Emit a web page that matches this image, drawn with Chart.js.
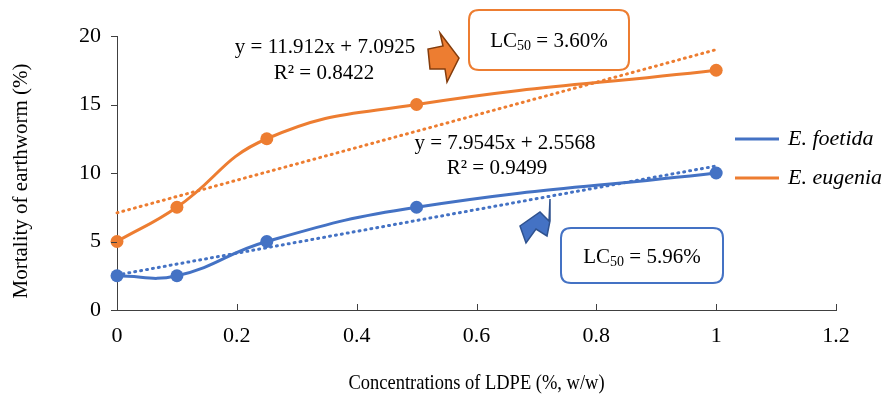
<!DOCTYPE html>
<html>
<head>
<meta charset="utf-8">
<script src="https://cdn.jsdelivr.net/npm/chart.js@4.4.0/dist/chart.umd.min.js"></script>
<style>
  html, body { margin: 0; padding: 0; background: #fff; }
  #wrap { width: 888px; height: 396px; }
</style>
</head>
<body>
<div id="wrap"><canvas id="myChart" width="888" height="396"></canvas></div>
<script>
// concentrations (% w/w) and mortality values
const concentrations = [0, 0.1, 0.25, 0.5, 1];
const foetida = [2.5, 2.5, 5, 7.5, 10];
const eugenia = [5, 7.5, 12.5, 15, 17.5];

// linear trend coefficients as printed on the chart
const foetidaTrend = [7.9545, 2.5568]; // slope, intercept
const eugeniaTrend = [11.912, 7.0925];
const trendRange = [0, 1];

const xTicks = [0, 0.2, 0.4, 0.6, 0.8, 1, 1.2];
const yTicks = [0, 5, 10, 15, 20];

const BLUE = '#4472C4';
const ORANGE = '#ED7D31';
const SERIF = "'Liberation Serif', 'Times New Roman', serif";

function toPoints(xs, ys) {
  return xs.map((x, i) => ({ x: x, y: ys[i] }));
}
function trendPoints(coef) {
  return trendRange.map(x => ({ x: x, y: coef[0] * x + coef[1] }));
}

function roundRect(ctx, x, y, w, h, r) {
  ctx.beginPath();
  ctx.moveTo(x + r, y);
  ctx.lineTo(x + w - r, y);
  ctx.quadraticCurveTo(x + w, y, x + w, y + r);
  ctx.lineTo(x + w, y + h - r);
  ctx.quadraticCurveTo(x + w, y + h, x + w - r, y + h);
  ctx.lineTo(x + r, y + h);
  ctx.quadraticCurveTo(x, y + h, x, y + h - r);
  ctx.lineTo(x, y + r);
  ctx.quadraticCurveTo(x, y, x + r, y);
  ctx.closePath();
}

function polygon(ctx, pts, fill, stroke) {
  ctx.beginPath();
  ctx.moveTo(pts[0][0], pts[0][1]);
  for (let i = 1; i < pts.length; i++) ctx.lineTo(pts[i][0], pts[i][1]);
  ctx.closePath();
  ctx.fillStyle = fill;
  ctx.fill();
  ctx.lineWidth = 1.5;
  ctx.lineJoin = 'miter';
  ctx.strokeStyle = stroke;
  ctx.stroke();
}

// LC50 box: "LC" + subscript "50" + rest
function lcBox(ctx, x, y, w, h, color, value) {
  roundRect(ctx, x, y, w, h, 10);
  ctx.fillStyle = '#fff';
  ctx.fill();
  ctx.lineWidth = 2;
  ctx.strokeStyle = color;
  ctx.stroke();

  const big = '21px ' + SERIF;
  const small = '14px ' + SERIF;
  const rest = ' = ' + value;
  ctx.font = big;
  const w1 = ctx.measureText('LC').width;
  const w3 = ctx.measureText(rest).width;
  ctx.font = small;
  const w2 = ctx.measureText('50').width;
  let cx = x + (w - (w1 + w2 + w3)) / 2;
  const base = y + h / 2 + 7;
  ctx.fillStyle = '#000';
  ctx.textAlign = 'left';
  ctx.textBaseline = 'alphabetic';
  ctx.font = big;
  ctx.fillText('LC', cx, base);
  ctx.font = small;
  ctx.fillText('50', cx + w1, base + 3);
  ctx.font = big;
  ctx.fillText(rest, cx + w1 + w2, base);
}

const decorations = {
  id: 'decorations',
  afterDraw(chart) {
    const ctx = chart.ctx;
    const xs = chart.scales.x;
    const ys = chart.scales.y;
    const area = chart.chartArea;
    ctx.save();

    // tick marks: y outward (left), x inward (up)
    ctx.strokeStyle = '#404040';
    ctx.lineWidth = 1;
    ctx.beginPath();
    yTicks.forEach(v => {
      const py = Math.round(ys.getPixelForValue(v)) + 0.5;
      ctx.moveTo(area.left - 6, py);
      ctx.lineTo(area.left, py);
    });
    xTicks.forEach(v => {
      const px = Math.round(xs.getPixelForValue(v)) + 0.5;
      ctx.moveTo(px, area.bottom);
      ctx.lineTo(px, area.bottom - 6);
    });
    ctx.stroke();

    // axis titles (x title is a slightly condensed face)
    ctx.fillStyle = '#000';
    ctx.textAlign = 'center';
    ctx.textBaseline = 'middle';
    ctx.save();
    ctx.font = '21px ' + SERIF;
    ctx.translate((area.left + area.right) / 2, 383);
    ctx.scale(0.88, 1);
    ctx.fillText('Concentrations of LDPE (%, w/w)', 0, 0);
    ctx.restore();
    ctx.save();
    ctx.font = '21px ' + SERIF;
    ctx.translate(21, 181);
    ctx.rotate(-Math.PI / 2);
    ctx.fillText('Mortality of earthworm (%)', 0, 0);
    ctx.restore();

    // trendline equations
    ctx.font = '21px ' + SERIF;
    ctx.fillText('y = 11.912x + 7.0925', 325, 47);
    ctx.fillText('R\u00B2 = 0.8422', 324, 73);
    ctx.fillText('y = 7.9545x + 2.5568', 505, 143);
    ctx.fillText('R\u00B2 = 0.9499', 497, 168);

    // legend
    ctx.lineWidth = 3;
    ctx.strokeStyle = BLUE;
    ctx.beginPath();
    ctx.moveTo(735, 139);
    ctx.lineTo(779, 139);
    ctx.stroke();
    ctx.strokeStyle = ORANGE;
    ctx.beginPath();
    ctx.moveTo(735, 178);
    ctx.lineTo(779, 178);
    ctx.stroke();
    ctx.font = 'italic 22px ' + SERIF;
    ctx.textAlign = 'left';
    ctx.fillText('E. foetida', 788, 139);
    ctx.fillText('E. eugenia', 788, 178);

    // block arrows
    polygon(ctx, [[440, 33], [459, 58], [447, 82], [445, 69], [430, 69], [428, 49], [443, 46]],
      ORANGE, '#843C0C');
    polygon(ctx, [[550, 199], [549, 221], [540, 212], [520, 226], [526, 243], [536, 229], [547, 236], [550, 221]],
      BLUE, '#2F528F');

    // LC50 boxes
    lcBox(ctx, 469, 10, 160, 60, ORANGE, '3.60%');
    lcBox(ctx, 561, 228, 162, 55, BLUE, '5.96%');

    ctx.restore();
  }
};

const ctx = document.getElementById('myChart');

new Chart(ctx, {
  type: 'line',
  data: {
    datasets: [
      {
        label: 'E. foetida trend',
        data: trendPoints(foetidaTrend),
        borderColor: BLUE,
        borderWidth: 3,
        borderDash: [1, 5],
        borderCapStyle: 'round',
        pointRadius: 0,
        tension: 0,
        clip: false,
        order: 3
      },
      {
        label: 'E. eugenia trend',
        data: trendPoints(eugeniaTrend),
        borderColor: ORANGE,
        borderWidth: 3,
        borderDash: [1, 5],
        borderCapStyle: 'round',
        pointRadius: 0,
        tension: 0,
        clip: false,
        order: 3
      },
      {
        label: 'E. foetida',
        data: toPoints(concentrations, foetida),
        borderColor: BLUE,
        backgroundColor: BLUE,
        borderWidth: 3,
        pointRadius: 6.5,
        pointBorderWidth: 0,
        tension: 0.45,
        clip: false,
        order: 1
      },
      {
        label: 'E. eugenia',
        data: toPoints(concentrations, eugenia),
        borderColor: ORANGE,
        backgroundColor: ORANGE,
        borderWidth: 3,
        pointRadius: 6.5,
        pointBorderWidth: 0,
        tension: 0.45,
        clip: false,
        order: 2
      }
    ]
  },
  options: {
    responsive: false,
    animation: false,
    layout: { padding: { left: 0, top: 36, right: 52, bottom: 0 } },
    plugins: {
      legend: { display: false },
      tooltip: { enabled: false }
    },
    scales: {
      x: {
        type: 'linear',
        min: 0,
        max: 1.2,
        afterFit: scale => { scale.height = 86; },
        afterBuildTicks: scale => { scale.ticks = xTicks.map(v => ({ value: v })); },
        grid: { display: false, drawTicks: false },
        border: { display: true, color: '#404040', width: 1 },
        ticks: {
          padding: 13,
          color: '#000',
          font: { family: SERIF, size: 22 },
          callback: v => String(v)
        }
      },
      y: {
        min: 0,
        max: 20,
        afterFit: scale => { scale.width = 117; },
        afterBuildTicks: scale => { scale.ticks = yTicks.map(v => ({ value: v })); },
        grid: { display: false, drawTicks: false },
        border: { display: true, color: '#404040', width: 1 },
        ticks: {
          padding: 16,
          color: '#000',
          font: { family: SERIF, size: 22 }
        }
      }
    }
  },
  plugins: [decorations]
});
</script>
</body>
</html>
